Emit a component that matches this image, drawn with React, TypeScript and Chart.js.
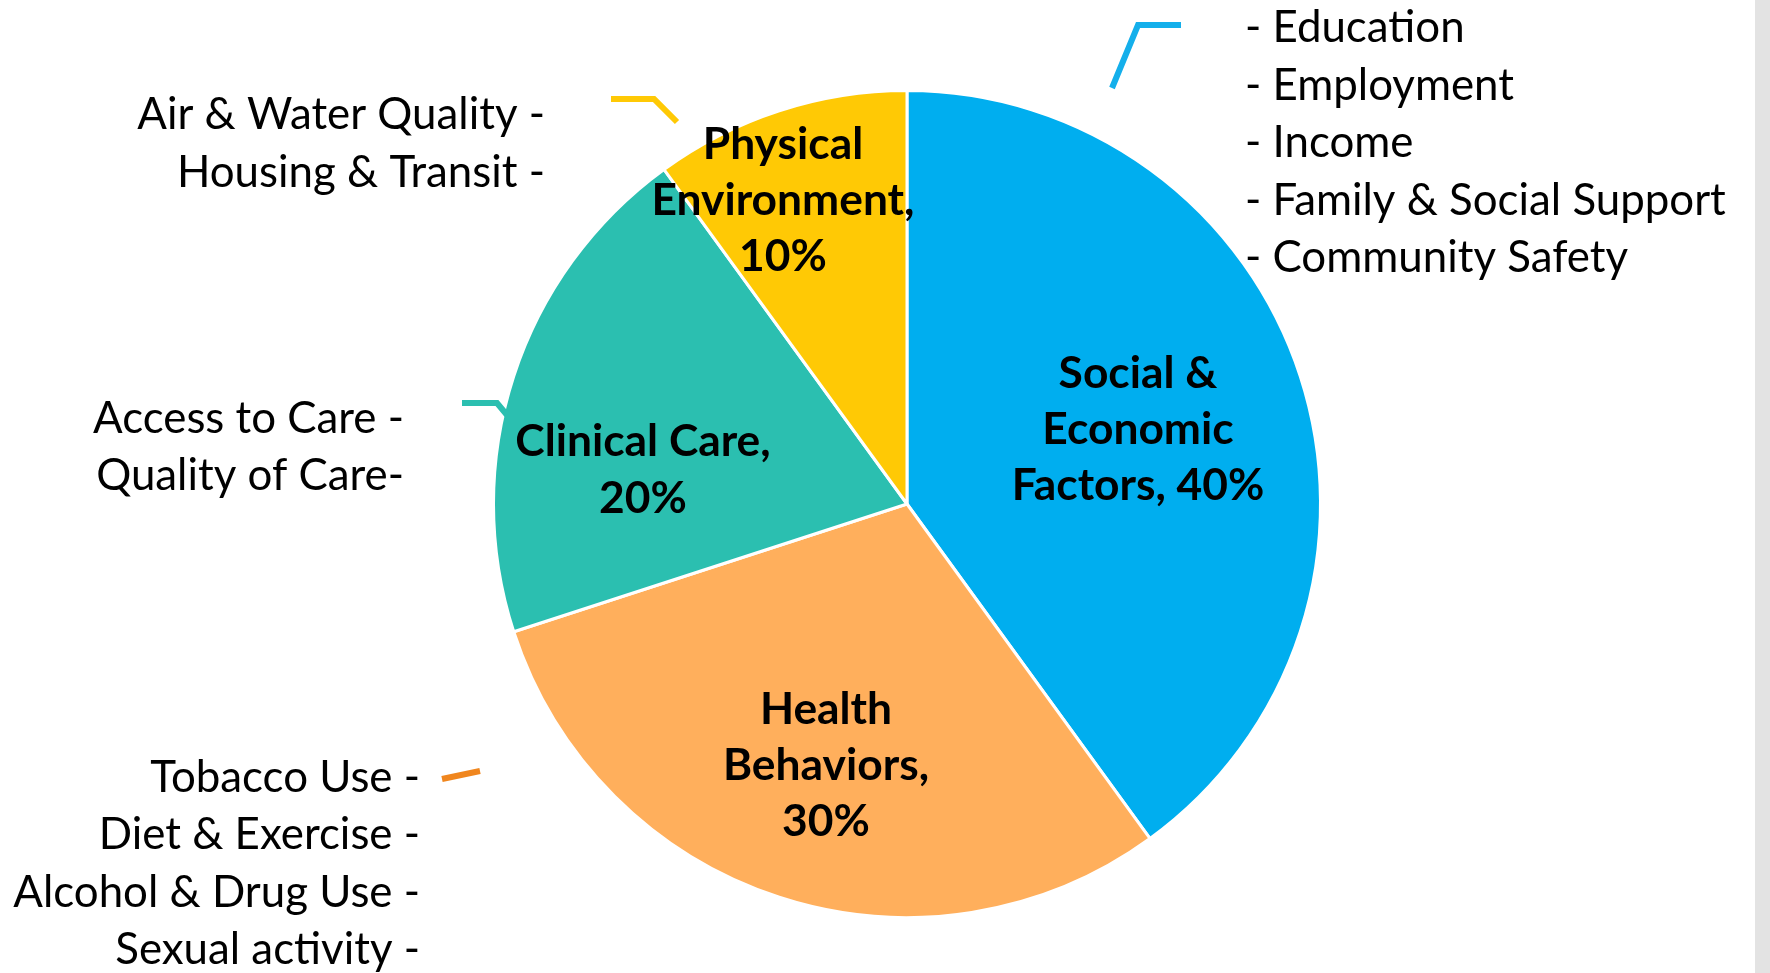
import React, { useEffect, useRef } from "react";
import { Chart, registerables } from "chart.js";

Chart.register(...registerables);

// ---- data ----
const categories = ["Social & Economic Factors", "Health Behaviors", "Clinical Care", "Physical Environment"];
const shares = [40, 30, 20, 10];
const sliceColors = ["#00AEEF", "#FFAF5C", "#2BBFB0", "#FFC905"];
const leaderColors = ["#14AFEB", "#F0861E", "#2BBFB0", "#FFC905"];

const insideLines = [
  ["Social &", "Economic", `Factors, ${shares[0]}%`],
  ["Health", "Behaviors,", `${shares[1]}%`],
  ["Clinical Care,", `${shares[2]}%`],
  ["Physical", "Environment,", `${shares[3]}%`],
];

const socialFactors = ["- Education", "- Employment", "- Income", "- Family & Social Support", "- Community Safety"];
const behaviorFactors = ["Tobacco Use -", "Diet & Exercise -", "Alcohol & Drug Use -", "Sexual activity -"];
const clinicalFactors = ["Access to Care -", "Quality of Care-"];
const environmentFactors = ["Air & Water Quality -", "Housing & Transit -"];

// ---- annotation layout (offsets from pie centre, px at reference radius) ----
const BASE_R = 412;
const insideCenters = [
  [231, -76],
  [-81, 260],
  [-264, -35.5],
  [-124, -305],
];
const factorBlocks = [
  { lines: socialFactors, x: 338, y: -478, align: "left" as CanvasTextAlign },
  { lines: behaviorFactors, x: -487, y: 271.5, align: "right" as CanvasTextAlign },
  { lines: clinicalFactors, x: -503, y: -87.5, align: "right" as CanvasTextAlign },
  { lines: environmentFactors, x: -362, y: -391, align: "right" as CanvasTextAlign },
];
const leaders = [
  [[205, -416], [231, -479], [274, -479]],
  [[-465, 275], [-427, 267]],
  [[-445, -101], [-410, -101], [-400, -89]],
  [[-296, -405], [-253, -405], [-230, -382]],
];

const FONT = "Lato, 'Open Sans', sans-serif";

export default function App() {
  const ref = useRef<HTMLCanvasElement>(null);

  useEffect(() => {
    const canvas = ref.current;
    if (!canvas) return;

    const labelPlugin = {
      id: "factorLabels",
      afterDraw(chart: any) {
        const ctx: CanvasRenderingContext2D = chart.ctx;
        const arc: any = chart.getDatasetMeta(0).data[0];
        if (!arc) return;
        const cx = arc.x;
        const cy = arc.y;
        const k = arc.outerRadius / (BASE_R + 1.5);
        ctx.save();

        // font sizes matched to reference text widths
        ctx.font = `400 100px ${FONT}`;
        const regW = ctx.measureText("- Family & Social Support").width;
        const regSize = (100 * 481 * k) / regW;
        ctx.font = `700 100px ${FONT}`;
        const boldW = ctx.measureText("Environment,").width;
        const boldSize = (100 * 263 * k) / boldW;

        // leader lines
        leaders.forEach((pts, i) => {
          ctx.beginPath();
          pts.forEach(([dx, dy], j) => {
            const px = cx + dx * k;
            const py = cy + dy * k;
            if (j === 0) ctx.moveTo(px, py);
            else ctx.lineTo(px, py);
          });
          ctx.strokeStyle = leaderColors[i];
          ctx.lineWidth = 6;
          ctx.lineCap = "butt";
          ctx.lineJoin = "miter";
          ctx.stroke();
        });

        ctx.fillStyle = "#000";
        ctx.textBaseline = "alphabetic";

        // inside labels
        ctx.font = `700 ${boldSize}px ${FONT}`;
        ctx.textAlign = "center";
        const boldGap = 56.4 * k;
        insideLines.forEach((lines, i) => {
          const [dx, dy] = insideCenters[i];
          const x = cx + dx * k;
          const yMid = cy + dy * k;
          const y0 = yMid - ((lines.length - 1) / 2) * boldGap;
          lines.forEach((t, j) => {
            ctx.fillText(t, x, y0 + j * boldGap + boldSize * 0.36);
          });
        });

        // factor lists
        ctx.font = `400 ${regSize}px ${FONT}`;
        const regGap = 57.5 * k;
        factorBlocks.forEach((b) => {
          ctx.textAlign = b.align;
          b.lines.forEach((t, j) => {
            ctx.fillText(t, cx + b.x * k, cy + b.y * k + j * regGap + regSize * 0.37);
          });
        });

        ctx.restore();
      },
    };

    const chart = new Chart(canvas, {
      type: "pie",
      data: {
        labels: categories,
        datasets: [
          {
            data: shares,
            backgroundColor: sliceColors,
            borderColor: "#ffffff",
            borderWidth: 3,
            radius: 413.5,
          } as any,
        ],
      },
      options: {
        animation: false,
        responsive: false,
        maintainAspectRatio: false,
        layout: { padding: { left: 44, top: 35, right: 0, bottom: 0 } },
        plugins: {
          legend: { display: false },
          tooltip: { enabled: false },
        },
      },
      plugins: [labelPlugin],
    });

    return () => chart.destroy();
  }, []);

  return (
    <div style={{ position: "absolute", left: 0, top: 0, width: 1770, height: 973, background: "#ffffff", overflow: "hidden" }}>
      <canvas ref={ref} width={1770} height={973} style={{ display: "block" }} />
      <div style={{ position: "absolute", left: 1755, top: 0, width: 15, height: 973, background: "#E3E3E3" }} />
    </div>
  );
}
